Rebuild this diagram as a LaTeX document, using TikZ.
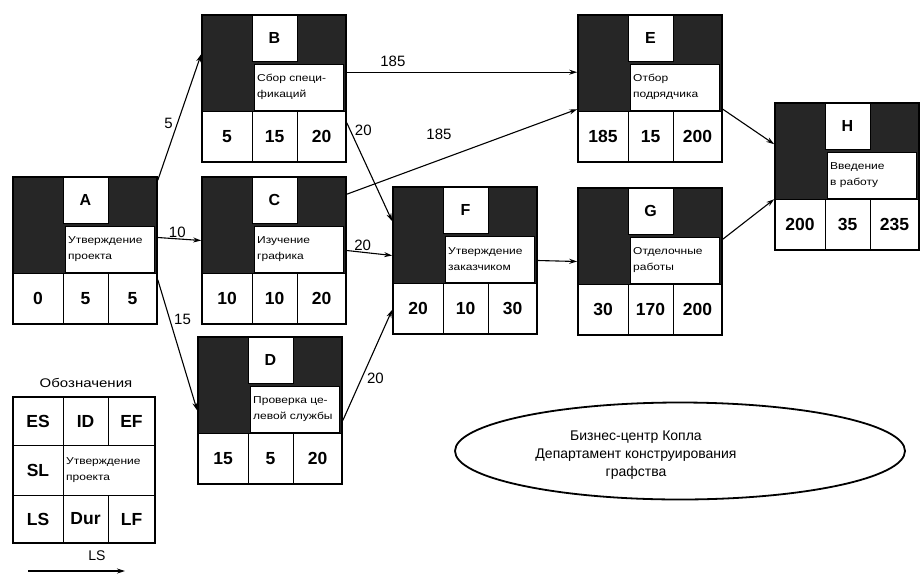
\documentclass[tikz,border=0pt]{standalone}
\usepackage{fontspec}
\setmainfont{Liberation Sans}
\newfontfamily\widefont[FakeStretch=1.2]{Liberation Sans}
\usetikzlibrary{calc,arrows.meta,shapes.geometric}
\tikzset{
  darkfill/.style={fill=black!85},
  cell/.style={draw=black, line width=1pt, fill=white},
  conn/.style={draw, line width=1.1pt, -{Stealth[length=8pt,width=5pt]}},
  lbl/.style={font=\fontsize{15}{15}\selectfont, inner sep=1pt},
  num/.style={font=\bfseries\fontsize{17.5}{17.5}\selectfont},
  ltr/.style={font=\bfseries\fontsize{16}{16}\selectfont},
  desc/.style={font=\widefont\fontsize{10}{16}\selectfont, align=left, anchor=west, inner sep=0pt},
  frame/.style={draw, line width=1.6pt, minimum width=144pt, minimum height=147pt, inner sep=0pt}
}
\newcommand{\pertbox}[8]{%
  \begin{scope}[shift={(#2,#3)}]
    \fill[darkfill] (0,0) rectangle (144,96);
    \draw[cell] (50,0) rectangle (95,46);
    \node[ltr] at (72.5,23) {#4};
    \draw[cell] (52,49) rectangle (141,95);
    \node[desc] at (55,72) {#5};
    \draw[cell] (0,96) rectangle (50,147);
    \draw[cell] (50,96) rectangle (95,147);
    \draw[cell] (95,96) rectangle (144,147);
    \node[num] at (25,121.5) {#6};
    \node[num] at (72.5,121.5) {#7};
    \node[num] at (119.5,121.5) {#8};
    \node[frame] (#1) at (72,73.5) {};
  \end{scope}}
\begin{document}
\begin{tikzpicture}[x=1pt,y=-1pt]
\useasboundingbox[fill=white] (0,0) rectangle (923,579);

\pertbox{A}{13}{177}{A}{Утверждение\\проекта}{0}{5}{5}
\pertbox{B}{202}{15}{B}{Сбор специ-\\фикаций}{5}{15}{20}
\pertbox{C}{202}{177}{C}{Изучение\\графика}{10}{10}{20}
\pertbox{D}{198}{337}{D}{Проверка це-\\левой службы}{15}{5}{20}
\pertbox{E}{578}{15}{E}{Отбор\\подрядчика}{185}{15}{200}
\pertbox{F}{393}{187}{F}{Утверждение\\заказчиком}{20}{10}{30}
\pertbox{G}{578}{188}{G}{Отделочные\\работы}{30}{170}{200}
\pertbox{H}{775}{103}{H}{Введение\\в работу}{200}{35}{235}

% connectors
\draw[conn] ($(A.north east)+(0,4)$) -- node[lbl, pos=0.45, left=3pt]{5} ($(B.north west)+(0,40)$);
\draw[conn] ($(A.east)+(0,-13)$) -- node[lbl, pos=0.45, above]{10} ($(C.west)+(0,-10)$);
\draw[conn] ($(A.south east)+(0,-45)$) -- node[lbl, pos=0.3, right=3pt]{15} (D.west);
\draw[conn] ($(B.north east)+(0,58)$) -- node[lbl, pos=0.2, above=4pt]{185} ($(E.north west)+(0,58)$);
\draw[conn] ($(C.north east)+(0,18)$) -- node[lbl, pos=0.4, above=19pt]{185} ($(E.north west)+(0,95)$);
\draw[conn] ($(B.south east)+(0,-40)$) -- node[lbl, pos=0.08, right=3pt]{20} ($(F.north west)+(0,35)$);
\draw[conn] (C.east) -- node[lbl, pos=0.35, above]{20} ($(F.west)+(0,-5)$);
\draw[conn] ($(D.east)+(0,10)$) -- node[lbl, pos=0.38, right=4pt]{20} ($(F.south west)+(0,-25)$);
\draw[conn] (F.east) -- (G.west);
\draw[conn] ($(E.north east)+(0,95)$) -- ($(H.north west)+(0,42)$);
\draw[conn] ($(G.north east)+(0,52)$) -- ($(H.north west)+(0,97)$);

% legend
\node[font=\widefont\fontsize{12.5}{12.5}\selectfont] (legtitle) at (86,383) {Обозначения};
\begin{scope}[shift={(13,397)}]
  \draw[cell] (0,0) rectangle (50,48);
  \draw[cell] (50,0) rectangle (95,48);
  \draw[cell] (95,0) rectangle (142,48);
  \draw[cell] (0,48) rectangle (50,98);
  \draw[cell] (50,48) rectangle (142,98);
  \draw[cell] (0,98) rectangle (50,146);
  \draw[cell] (50,98) rectangle (95,146);
  \draw[cell] (95,98) rectangle (142,146);
  \node[num] at (25,24) {ES};
  \node[num] at (72.5,24) {ID};
  \node[num] at (118.5,24) {EF};
  \node[num] at (25,73) {SL};
  \node[desc] at (53,73) {Утверждение\\проекта};
  \node[num] at (25,122) {LS};
  \node[num] at (72.5,122) {Dur};
  \node[num] at (118.5,122) {LF};
  \node[draw, line width=1.6pt, minimum width=142pt, minimum height=146pt, inner sep=0pt] (legend) at (71,73) {};
\end{scope}
\node[font=\fontsize{14}{14}\selectfont] (lslbl) at (97,556) {LS};
\coordinate (lsa) at (28,571);
\coordinate (lsb) at (125,571);
\draw[conn] (lsa) -- (lsb);

% ellipse
\node[draw, ellipse, line width=1.8pt, minimum width=450pt, minimum height=97pt] (org) at (680,451) {};
\node[font=\fontsize{14}{18}\selectfont, align=center] (orgtext) at (636,455) {Бизнес-центр Копла\\Департамент конструирования\\графства};
\end{tikzpicture}
\end{document}
